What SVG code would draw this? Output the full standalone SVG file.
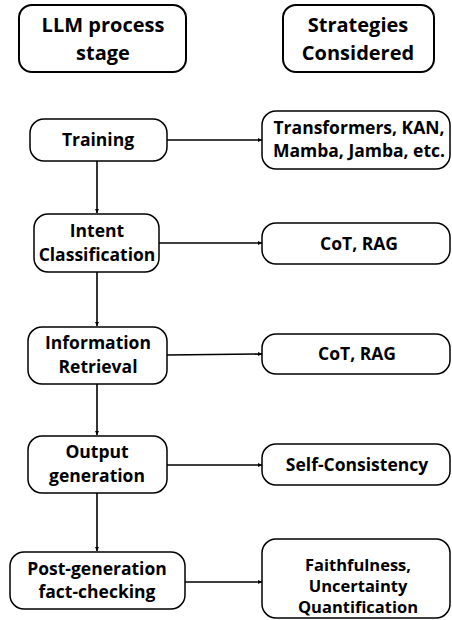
<svg xmlns="http://www.w3.org/2000/svg" width="452" height="620" viewBox="0 0 452 620">
<defs>
<style>
.hdr{fill:#fff;stroke:#000;stroke-width:2}
.node{fill:#fff;stroke:#000;stroke-width:1.5}
text{font-family:"Open Sans","DejaVu Sans",sans-serif;font-weight:bold;fill:#000;text-anchor:middle}
.h{font-size:20px}
.t{font-size:17.5px}
.s{font-size:16.5px}
.conn line{stroke:#000;stroke-width:1.6;fill:none}
</style>
<marker id="ah" viewBox="0 0 6 6" refX="6" refY="3" markerWidth="4" markerHeight="4" orient="auto" markerUnits="userSpaceOnUse">
<path d="M0,0 L6,3 L0,6 z" fill="#000"/>
</marker>
</defs>
<rect width="452" height="620" fill="#fff"/>
<g id="hdr-left">
<rect class="hdr" x="19" y="5" width="167" height="67" rx="13"/>
<text class="h" x="103" y="32">LLM process</text>
<text class="h" x="103" y="60">stage</text>
</g>
<g id="hdr-right">
<rect class="hdr" x="283" y="5" width="151" height="67" rx="13"/>
<text class="h" x="358" y="32">Strategies</text>
<text class="h" x="358" y="60">Considered</text>
</g>
<g class="conn" id="connectors">
<line x1="97" y1="161" x2="97" y2="213" marker-end="url(#ah)"/>
<line x1="97" y1="272" x2="97" y2="326" marker-end="url(#ah)"/>
<line x1="97" y1="384" x2="97" y2="435" marker-end="url(#ah)"/>
<line x1="97" y1="493" x2="97" y2="551" marker-end="url(#ah)"/>
<line x1="167" y1="140" x2="262" y2="140" marker-end="url(#ah)"/>
<line x1="159" y1="243" x2="262" y2="243" marker-end="url(#ah)"/>
<line x1="167" y1="355" x2="262" y2="354" marker-end="url(#ah)"/>
<line x1="167" y1="465" x2="262" y2="465" marker-end="url(#ah)"/>
<line x1="185" y1="582" x2="262" y2="582" marker-end="url(#ah)"/>
</g>
<g id="training">
<rect class="node" x="30" y="119" width="137" height="42" rx="14"/>
<text class="t" x="98" y="146">Training</text>
</g>
<g id="intent">
<rect class="node" x="34" y="214" width="125" height="58" rx="14"/>
<text class="t" x="97" y="237">Intent</text>
<text class="t" x="97" y="261">Classification</text>
</g>
<g id="retrieval">
<rect class="node" x="28" y="327" width="139" height="57" rx="14"/>
<text class="t" x="98" y="349">Information</text>
<text class="t" x="98" y="373">Retrieval</text>
</g>
<g id="output">
<rect class="node" x="28" y="436" width="139" height="57" rx="14"/>
<text class="t" x="97" y="458">Output</text>
<text class="t" x="97" y="482">generation</text>
</g>
<g id="postgen">
<rect class="node" x="10" y="552" width="175" height="57" rx="14"/>
<text class="t" x="97" y="575">Post-generation</text>
<text class="t" x="97" y="598">fact-checking</text>
</g>
<g id="s-training">
<rect class="node" x="262" y="111" width="188" height="58" rx="14"/>
<text class="t" x="359" y="134">Transformers, KAN,</text>
<text class="t" x="359" y="157">Mamba, Jamba, etc.</text>
</g>
<g id="s-intent">
<rect class="node" x="262" y="223" width="188" height="41" rx="14"/>
<text class="t" x="359" y="250">CoT, RAG</text>
</g>
<g id="s-retrieval">
<rect class="node" x="262" y="334" width="188" height="40" rx="14"/>
<text class="t" x="357" y="360">CoT, RAG</text>
</g>
<g id="s-output">
<rect class="node" x="262" y="444" width="188" height="41" rx="14"/>
<text class="t" x="357" y="471">Self-Consistency</text>
</g>
<g id="s-postgen">
<rect class="node" x="262" y="539" width="188" height="79" rx="14"/>
<text class="s" x="358" y="571">Faithfulness,</text>
<text class="s" x="358" y="592">Uncertainty</text>
<text class="s" x="358" y="613">Quantification</text>
</g>
</svg>
